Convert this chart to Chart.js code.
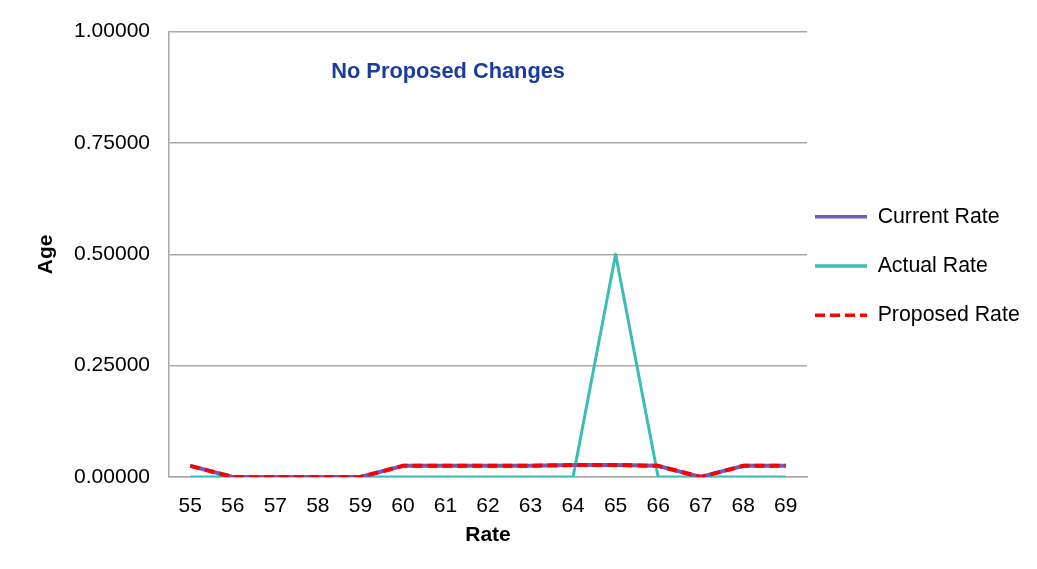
<!DOCTYPE html>
<html>
<head>
<meta charset="utf-8">
<script src="https://cdn.jsdelivr.net/npm/chart.js@4/dist/chart.umd.min.js"></script>
<style>
  html, body { margin: 0; padding: 0; background: #ffffff; }
  #wrap { position: relative; width: 1037px; height: 569px; }
  canvas { display: block; }
</style>
</head>
<body>
<div id="wrap"><canvas id="c" width="1037" height="569"></canvas></div>
<script>
// ---- data ----
const categories = ['55','56','57','58','59','60','61','62','63','64','65','66','67','68','69'];
const currentRate  = [0.025, 0, 0, 0, 0, 0.025, 0.025, 0.025, 0.025, 0.027, 0.027, 0.025, 0, 0.025, 0.025];
const actualRate   = [0, 0, 0, 0, 0, 0, 0, 0, 0, 0, 0.5, 0, 0, 0, 0];
const proposedRate = [0.025, 0, 0, 0, 0, 0.025, 0.025, 0.025, 0.025, 0.027, 0.027, 0.025, 0, 0.025, 0.025];
const seriesNames  = ['Current Rate', 'Actual Rate', 'Proposed Rate'];
const yTicks = [0, 0.25, 0.5, 0.75, 1.0];
const noteText = 'No Proposed Changes';
const xTitle = 'Rate';
const yTitle = 'Age';

const FONT = "'Liberation Sans', Arial, sans-serif";
const GRID = '#a9a9a9';

// note drawn inside the plot area
const notePlugin = {
  id: 'note',
  afterDraw(chart, args, opts) {
    const a = chart.chartArea, ctx = chart.ctx;
    ctx.save();
    ctx.font = 'bold 21.8px ' + FONT;
    ctx.fillStyle = opts.color;
    ctx.textAlign = 'center';
    ctx.textBaseline = 'middle';
    ctx.fillText(opts.text, a.left + a.width * opts.fx, a.top + a.height * opts.fy);
    ctx.restore();
  }
};

// place the legend next to the plot area
const legendPlace = {
  id: 'legendPlace',
  afterLayout(chart, args, opts) {
    const lg = chart.legend;
    if (!lg) return;
    const pad = lg.options.labels.padding;
    lg.left = chart.chartArea.right + opts.gap - pad;
    lg.right = chart.width;
    lg.width = lg.right - lg.left;
    lg.top = opts.top - pad;
    lg.bottom = chart.height;
    lg.height = lg.bottom - lg.top;
  }
};

new Chart(document.getElementById('c'), {
  type: 'line',
  data: {
    labels: categories,
    datasets: [
      { label: seriesNames[0], data: currentRate, borderColor: '#7359be', backgroundColor: '#7359be',
        borderWidth: 4, pointRadius: 0, tension: 0, order: 1, borderJoinStyle: 'round' },
      { label: seriesNames[1], data: actualRate, borderColor: '#3cbcb6', backgroundColor: '#3cbcb6',
        borderWidth: 3, pointRadius: 0, tension: 0, order: 2, borderJoinStyle: 'round' },
      { label: seriesNames[2], data: proposedRate, borderColor: '#ff0000', backgroundColor: '#ff0000',
        borderWidth: 4, borderDash: [10, 5], pointRadius: 0, tension: 0, order: 0, borderJoinStyle: 'round' }
    ]
  },
  options: {
    responsive: false,
    animation: false,
    devicePixelRatio: 1,
    layout: { padding: { top: 31, right: 0, bottom: 0, left: 0 } },
    scales: {
      x: {
        offset: true,
        grid: { display: false, drawTicks: false },
        border: { display: true, color: GRID, width: 1.5 },
        ticks: { color: '#000', font: { family: FONT, size: 21 }, padding: 17, maxRotation: 0, autoSkip: false },
        title: { display: true, text: xTitle, color: '#000', font: { family: FONT, size: 21, weight: 'bold' }, padding: { top: 21, bottom: 21 } },
        afterFit(s) { s.height = 92; }
      },
      y: {
        min: 0, max: 1,
        afterBuildTicks(s) { s.ticks = yTicks.map(v => ({ value: v })); },
        grid: { color: GRID, lineWidth: 1.5, drawTicks: false },
        border: { display: true, color: GRID, width: 1.5 },
        ticks: { color: '#000', font: { family: FONT, size: 21 }, padding: 19, callback: v => Number(v).toFixed(5) },
        title: { display: true, text: yTitle, color: '#000', font: { family: FONT, size: 21, weight: 'bold' }, padding: { top: 34, bottom: 34 } },
        afterFit(s) { s.width = 169; }
      }
    },
    plugins: {
      tooltip: { enabled: false },
      note: { text: noteText, color: '#1a3c9c', fx: 0.4375, fy: 0.0908 },
      legendPlace: { gap: 8, top: 206 },
      legend: {
        position: 'right',
        align: 'start',
        maxWidth: 230,
        labels: {
          color: '#000',
          font: { family: FONT, size: 21.3 },
          padding: 28,
          usePointStyle: true,
          pointStyle: 'line',
          pointStyleWidth: 52,
          sort: (a, b) => a.datasetIndex - b.datasetIndex,
          generateLabels(chart) {
            const items = Chart.defaults.plugins.legend.labels.generateLabels(chart);
            items.forEach(it => {
              const ds = chart.data.datasets[it.datasetIndex];
              it.lineDash = ds.borderDash || [];
              it.lineWidth = 3.5;
              it.strokeStyle = ds.borderColor;
              it.pointStyle = 'line';
            });
            return items;
          }
        }
      }
    }
  },
  plugins: [notePlugin, legendPlace]
});
</script>
</body>
</html>
